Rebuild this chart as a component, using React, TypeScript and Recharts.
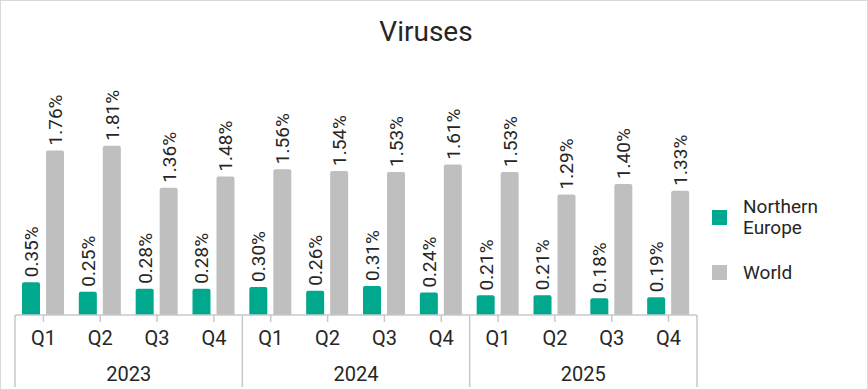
import { BarChart, Bar, XAxis, YAxis, LabelList } from 'recharts';

const QUARTERS = ['Q1', 'Q2', 'Q3', 'Q4', 'Q1', 'Q2', 'Q3', 'Q4', 'Q1', 'Q2', 'Q3', 'Q4'];
const YEARS = ['2023', '2023', '2023', '2023', '2024', '2024', '2024', '2024', '2025', '2025', '2025', '2025'];
const NORTHERN_EUROPE = [0.35, 0.25, 0.28, 0.28, 0.3, 0.26, 0.31, 0.24, 0.21, 0.21, 0.18, 0.19];
const WORLD = [1.76, 1.81, 1.36, 1.48, 1.56, 1.54, 1.53, 1.61, 1.53, 1.29, 1.4, 1.33];

const GREEN = '#00A88E';
const GREY = '#BFBFBF';
const AXIS = '#C9C9C9';
const TEXT = '#262626';
const FONT = 'Roboto, sans-serif';

const data = QUARTERS.map((q, i) => ({
  key: `${YEARS[i]}-${q}`,
  q,
  year: YEARS[i],
  ne: NORTHERN_EUROPE[i],
  world: WORLD[i],
}));

const fmt = (v: number) => `${v.toFixed(2)}%`;

function VerticalLabel(props: any) {
  const { x, y, width, value } = props;
  const lx = x + width / 2 + 7;
  const ly = y - 5;
  return (
    <text
      x={lx}
      y={ly}
      transform={`rotate(-90 ${lx} ${ly})`}
      fill={TEXT}
      fontSize={19}
      fontFamily={FONT}
      textAnchor="start"
    >
      {fmt(value)}
    </text>
  );
}

function QuarterTick(props: any) {
  const { x, y, index } = props;
  return (
    <text x={x} y={y + 21} fill={TEXT} fontSize={20} fontFamily={FONT} textAnchor="middle">
      {QUARTERS[index]}
    </text>
  );
}

function YearTick(props: any) {
  const { x, y, payload, index, visibleTicksCount } = props;
  const half = payload.offset ?? 0;
  const top = y - 48;
  const bottom = y + 24;
  return (
    <g>
      <line x1={x - half} x2={x - half} y1={top} y2={bottom} stroke={AXIS} strokeWidth={1.5} />
      {index === visibleTicksCount - 1 && (
        <line x1={x + half} x2={x + half} y1={top} y2={bottom} stroke={AXIS} strokeWidth={1.5} />
      )}
      <text x={x} y={y + 18} fill={TEXT} fontSize={20} fontFamily={FONT} textAnchor="middle">
        {payload.value}
      </text>
    </g>
  );
}

function LegendBox() {
  const items = [
    { color: GREEN, label: ['Northern', 'Europe'] },
    { color: GREY, label: ['World'] },
  ];
  return (
    <div
      style={{
        position: 'absolute',
        left: 711,
        top: 195,
        fontFamily: FONT,
        color: TEXT,
        fontSize: 19,
        lineHeight: '21px',
      }}
    >
      {items.map((it) => (
        <div key={it.color} style={{ display: 'flex', alignItems: 'center', marginBottom: 24 }}>
          <span style={{ width: 15, height: 15, background: it.color, marginRight: 16, flexShrink: 0 }} />
          <span>
            {it.label.map((l) => (
              <div key={l}>{l}</div>
            ))}
          </span>
        </div>
      ))}
    </div>
  );
}

export default function App() {
  return (
    <div
      style={{
        position: 'absolute',
        left: 0,
        top: 0,
        width: 866,
        height: 388,
        border: '1px solid #D9D9D9',
        background: '#fff',
        overflow: 'hidden',
      }}
    >
      <div
        style={{
          position: 'absolute',
          top: 14,
          width: 850,
          textAlign: 'center',
          fontFamily: FONT,
          fontSize: 28,
          color: TEXT,
        }}
      >
        Viruses
      </div>
      <LegendBox />
      <BarChart
        width={866}
        height={388}
        data={data}
        margin={{ top: 127, right: 170, bottom: 0, left: 14 }}
        barSize={18}
        barGap={6}
        barCategoryGap={7}
      >
        <XAxis
          dataKey="key"
          tick={<QuarterTick />}
          height={40}
          interval={0}
          axisLine={{ stroke: AXIS, strokeWidth: 1.5 }}
          tickLine={{ stroke: AXIS, strokeWidth: 1.5 }}
          tickSize={7}
        />
        <XAxis
          dataKey="year"
          xAxisId="year"
          allowDuplicatedCategory={false}
          tick={<YearTick />}
          height={34}
          interval={0}
          axisLine={false}
          tickLine={false}
        />
        <YAxis hide domain={[0, 2]} />
        <Bar dataKey="ne" name="Northern Europe" fill={GREEN} radius={[2, 2, 0, 0]} isAnimationActive={false}>
          <LabelList dataKey="ne" content={<VerticalLabel />} />
        </Bar>
        <Bar dataKey="world" name="World" fill={GREY} radius={[2, 2, 0, 0]} isAnimationActive={false}>
          <LabelList dataKey="world" content={<VerticalLabel />} />
        </Bar>
      </BarChart>
    </div>
  );
}
